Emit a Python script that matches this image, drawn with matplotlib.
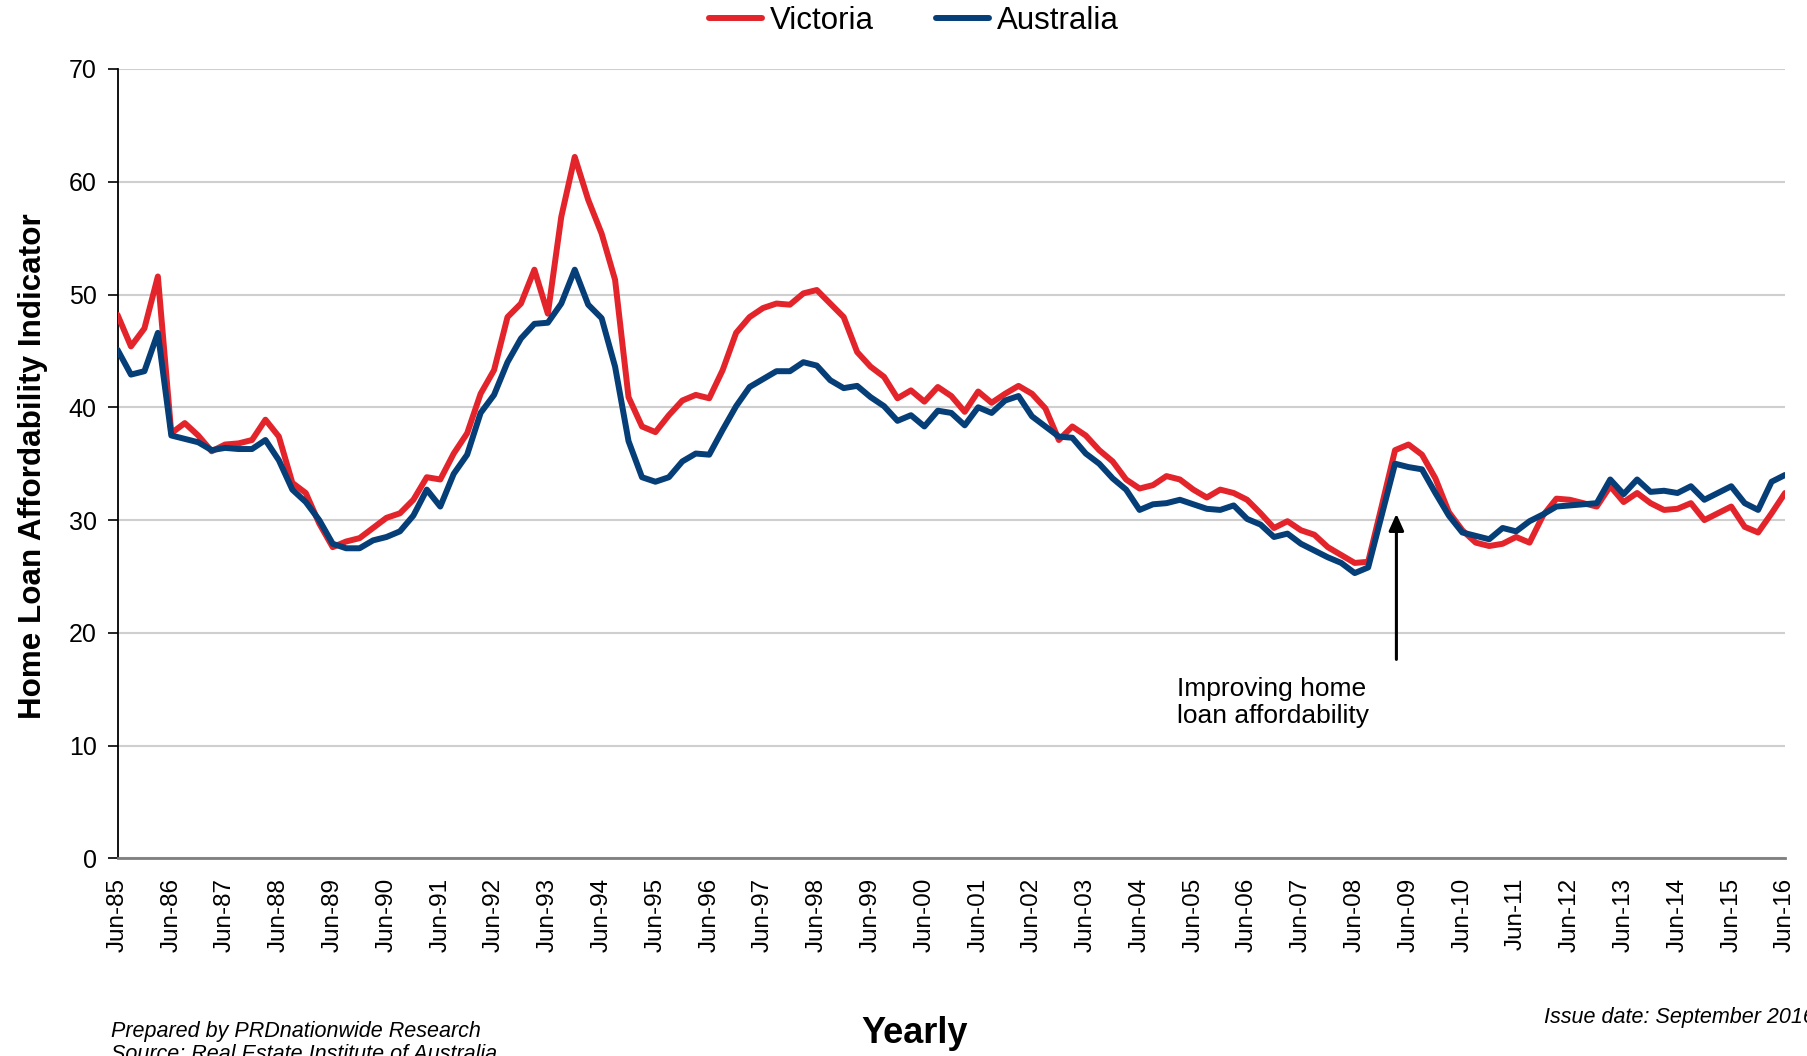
import matplotlib
matplotlib.use("Agg")
import matplotlib.pyplot as plt

plt.rcParams['font.family'] = ['Liberation Sans', 'DejaVu Sans']

years = list(range(1985, 2017))
tick_labels = ["Jun-%02d" % (y % 100) for y in years]

victoria = [48.2, 45.4, 47.0, 51.6, 37.7, 38.6, 37.5, 36.1, 36.7, 36.8,
            37.1, 38.9, 37.4, 33.3, 32.4, 29.7, 27.6, 28.1, 28.4, 29.3,
            30.2, 30.6, 31.8, 33.8, 33.6, 35.9, 37.7, 41.2, 43.3, 48.0,
            49.2, 52.2, 48.3, 56.9, 62.2, 58.4, 55.4, 51.3, 40.9, 38.3,
            37.8, 39.3, 40.6, 41.1, 40.8, 43.3, 46.6, 48.0, 48.8, 49.2,
            49.1, 50.1, 50.4, 49.2, 48.0, 44.9, 43.6, 42.7, 40.8, 41.5,
            40.5, 41.8, 41.0, 39.6, 41.4, 40.4, 41.2, 41.9, 41.2, 39.9,
            37.1, 38.3, 37.5, 36.2, 35.2, 33.6, 32.8, 33.1, 33.9, 33.6,
            32.7, 32.0, 32.7, 32.4, 31.8, 30.6, 29.3, 29.9, 29.1, 28.7,
            27.6, 26.9, 26.2, 26.3, 31.2, 36.2, 36.7, 35.8, 33.7, 30.7,
            29.1, 28.0, 27.7, 27.9, 28.5, 28.0, 30.4, 31.9, 31.8, 31.5,
            31.2, 33.0, 31.6, 32.4, 31.5, 30.9, 31.0, 31.5, 30.0, 30.6,
            31.2, 29.4, 28.9, 30.6, 32.4]

australia = [45.1, 42.9, 43.2, 46.6, 37.5, 37.2, 36.9, 36.2, 36.4, 36.3,
             36.3, 37.1, 35.3, 32.7, 31.6, 30.0, 27.9, 27.5, 27.5, 28.2,
             28.5, 29.0, 30.4, 32.7, 31.2, 34.1, 35.8, 39.5, 41.1, 44.0,
             46.1, 47.4, 47.5, 49.2, 52.2, 49.1, 47.9, 43.6, 37.0, 33.8,
             33.4, 33.8, 35.2, 35.9, 35.8, 38.0, 40.1, 41.8, 42.5, 43.2,
             43.2, 44.0, 43.7, 42.4, 41.7, 41.9, 40.9, 40.1, 38.8, 39.3,
             38.3, 39.7, 39.5, 38.4, 40.0, 39.5, 40.6, 41.0, 39.2, 38.3,
             37.4, 37.3, 35.9, 35.0, 33.7, 32.7, 30.9, 31.4, 31.5, 31.8,
             31.4, 31.0, 30.9, 31.3, 30.1, 29.6, 28.5, 28.8, 27.9, 27.3,
             26.7, 26.2, 25.3, 25.8, 30.4, 35.0, 34.7, 34.5, 32.4, 30.4,
             28.9, 28.6, 28.3, 29.3, 29.0, 29.9, 30.5, 31.2, 31.3, 31.4,
             31.5, 33.6, 32.3, 33.6, 32.5, 32.6, 32.4, 33.0, 31.8, 32.4,
             33.0, 31.5, 30.9, 33.4, 34.0]

quarters = list(range(len(victoria)))
tick_pos = list(range(0, len(victoria), 4))

fig = plt.figure(figsize=(18.08, 10.56), dpi=100)
ax = fig.add_axes([0.065, 0.1871, 0.9223, 0.7476])

ax.plot(quarters, victoria, color='#E3242B', lw=4.3, solid_joinstyle='round',
        solid_capstyle='round', label='Victoria', zorder=3)
ax.plot(quarters, australia, color='#063E78', lw=4.3, solid_joinstyle='round',
        solid_capstyle='round', label='Australia', zorder=4)

ax.set_xlim(0, len(victoria) - 1)
ax.set_ylim(0, 70)
ax.set_yticks(range(0, 71, 10))
ax.set_xticks(tick_pos)
ax.set_xticklabels(tick_labels, rotation=90, fontsize=17.5)
ax.tick_params(axis='y', labelsize=18, length=7, width=1.2, pad=8, direction='out')
ax.tick_params(axis='x', length=0, pad=14)
ax.grid(axis='y', color='#CFCFCF', lw=1.5)
ax.set_axisbelow(True)
for s in ['top', 'right']:
    ax.spines[s].set_visible(False)
ax.spines['left'].set_color('black')
ax.spines['left'].set_linewidth(1.3)
ax.spines['bottom'].set_color('#7F7F7F')
ax.spines['bottom'].set_linewidth(2)

ax.annotate('', xy=(95.1, 30.8), xytext=(95.1, 17.4),
            arrowprops=dict(arrowstyle='-|>,head_width=0.45,head_length=1.0',
                            color='black', lw=2.2))
ax.text(78.8, 16.1, 'Improving home\nloan affordability', fontsize=19,
        ha='left', va='top', linespacing=1.15)

fig.text(0.018, 0.559, 'Home Loan Affordability Indicator', rotation=90,
         fontsize=22.6, fontweight='bold', ha='center', va='center')
fig.text(0.506, 0.021, 'Yearly', fontsize=26, fontweight='bold',
         ha='center', va='center')
fig.text(0.0612, 0.023, 'Prepared by PRDnationwide Research', fontsize=15.5,
         style='italic', ha='left', va='center')
fig.text(0.0612, 0.001, 'Source: Real Estate Institute of Australia', fontsize=15.5,
         style='italic', ha='left', va='center')
fig.text(0.854, 0.036, 'Issue date: September 2016', fontsize=15.5,
         style='italic', ha='left', va='center')

leg = fig.legend(loc='center', bbox_to_anchor=(0.5055, 0.980), ncol=2,
                 frameon=False, fontsize=22.5, handlelength=1.7,
                 handletextpad=0.25, columnspacing=2.0)

fig.savefig('out.png', dpi=100)
